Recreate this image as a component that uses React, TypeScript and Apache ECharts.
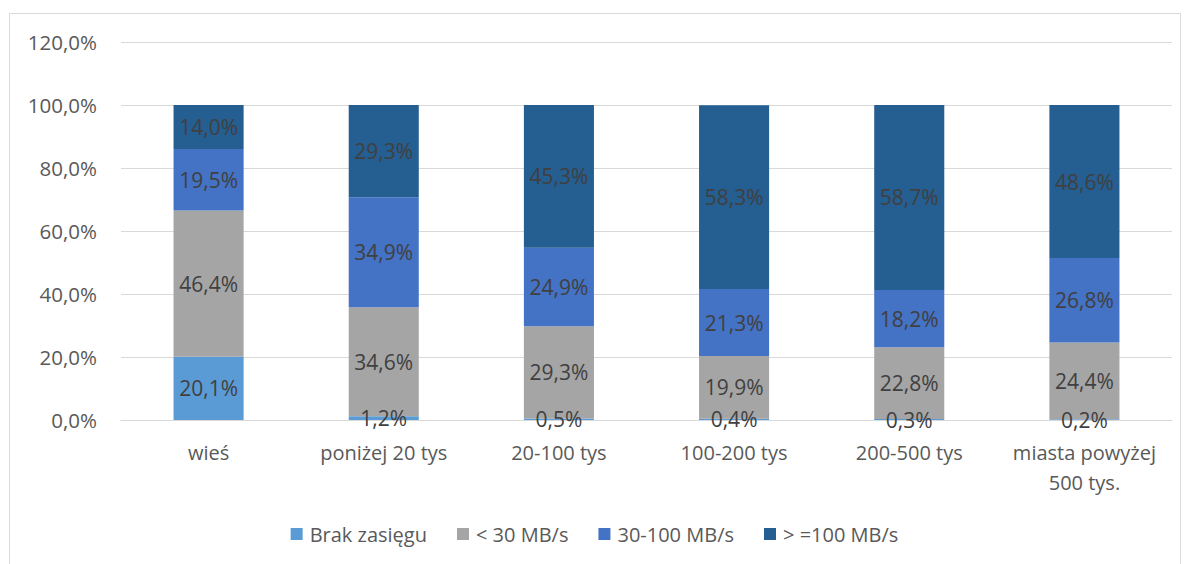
import React, { useEffect, useRef } from "react";
import * as echarts from "echarts";

const categories = ["wieś", "poniżej 20 tys", "20-100 tys", "100-200 tys", "200-500 tys", "miasta powyżej\n500 tys."];
const seriesNames = ["Brak zasięgu", "< 30 MB/s", "30-100 MB/s", "> =100 MB/s"];
const brak = [20.1, 1.2, 0.5, 0.4, 0.3, 0.2];
const below30 = [46.4, 34.6, 29.3, 19.9, 22.8, 24.4];
const mid = [19.5, 34.9, 24.9, 21.3, 18.2, 26.8];
const high = [14.0, 29.3, 45.3, 58.3, 58.7, 48.6];
const colors = ["#5B9BD5", "#A5A5A5", "#4472C4", "#255E91"];

const FONT = "'Open Sans', 'Noto Sans', sans-serif";
const fmt = (v: number) => v.toFixed(1).replace(".", ",") + "%";

export default function App() {
  const ref = useRef<HTMLDivElement>(null);
  useEffect(() => {
    const chart = echarts.init(ref.current!, undefined, { renderer: "svg" });
    const data = [brak, below30, mid, high];
    chart.setOption({
      animation: false,
      textStyle: { fontFamily: FONT },
      graphic: [
        {
          type: "rect",
          shape: { x: 9.5, y: 13.5, width: 1171, height: 560 },
          style: { fill: "none", stroke: "#D9D9D9", lineWidth: 1 },
          silent: true,
        },
      ],
      grid: { left: 121, right: 17, top: 42, bottom: 144, containLabel: false },
      legend: {
        bottom: 15,
        left: "center",
        itemWidth: 12,
        itemHeight: 12,
        itemGap: 30,
        icon: "rect",
        textStyle: { color: "#595959", fontSize: 20, fontFamily: FONT, padding: [0, 0, 0, 2] },
        data: seriesNames,
      },
      xAxis: {
        type: "category",
        data: categories,
        axisLine: { lineStyle: { color: "#D9D9D9", width: 1 } },
        axisTick: { show: false },
        axisLabel: {
          color: "#595959",
          fontSize: 20,
          margin: 17,
          lineHeight: 30,
          fontFamily: FONT,
          interval: 0,
          hideOverlap: false,
        },
      },
      yAxis: {
        type: "value",
        min: 0,
        max: 120,
        interval: 20,
        axisLine: { show: false },
        axisTick: { show: false },
        splitLine: { lineStyle: { color: "#D9D9D9", width: 1 } },
        axisLabel: {
          color: "#595959",
          fontSize: 20.5,
          margin: 24,
          fontFamily: FONT,
          formatter: (v: number) => fmt(v),
        },
      },
      series: seriesNames.map((name, i) => ({
        name,
        type: "bar",
        stack: "total",
        barWidth: "40%",
        itemStyle: { color: colors[i] },
        label: {
          show: true,
          position: "inside",
          color: "#404040",
          fontSize: 21,
          fontFamily: FONT,
          formatter: (p: any) => fmt(p.value),
        },
        data: data[i],
      })),
    });
    return () => chart.dispose();
  }, []);
  return (
    <div
      ref={ref}
      style={{ position: "fixed", left: 0, top: 0, width: 1189, height: 564, background: "#fff" }}
    />
  );
}
